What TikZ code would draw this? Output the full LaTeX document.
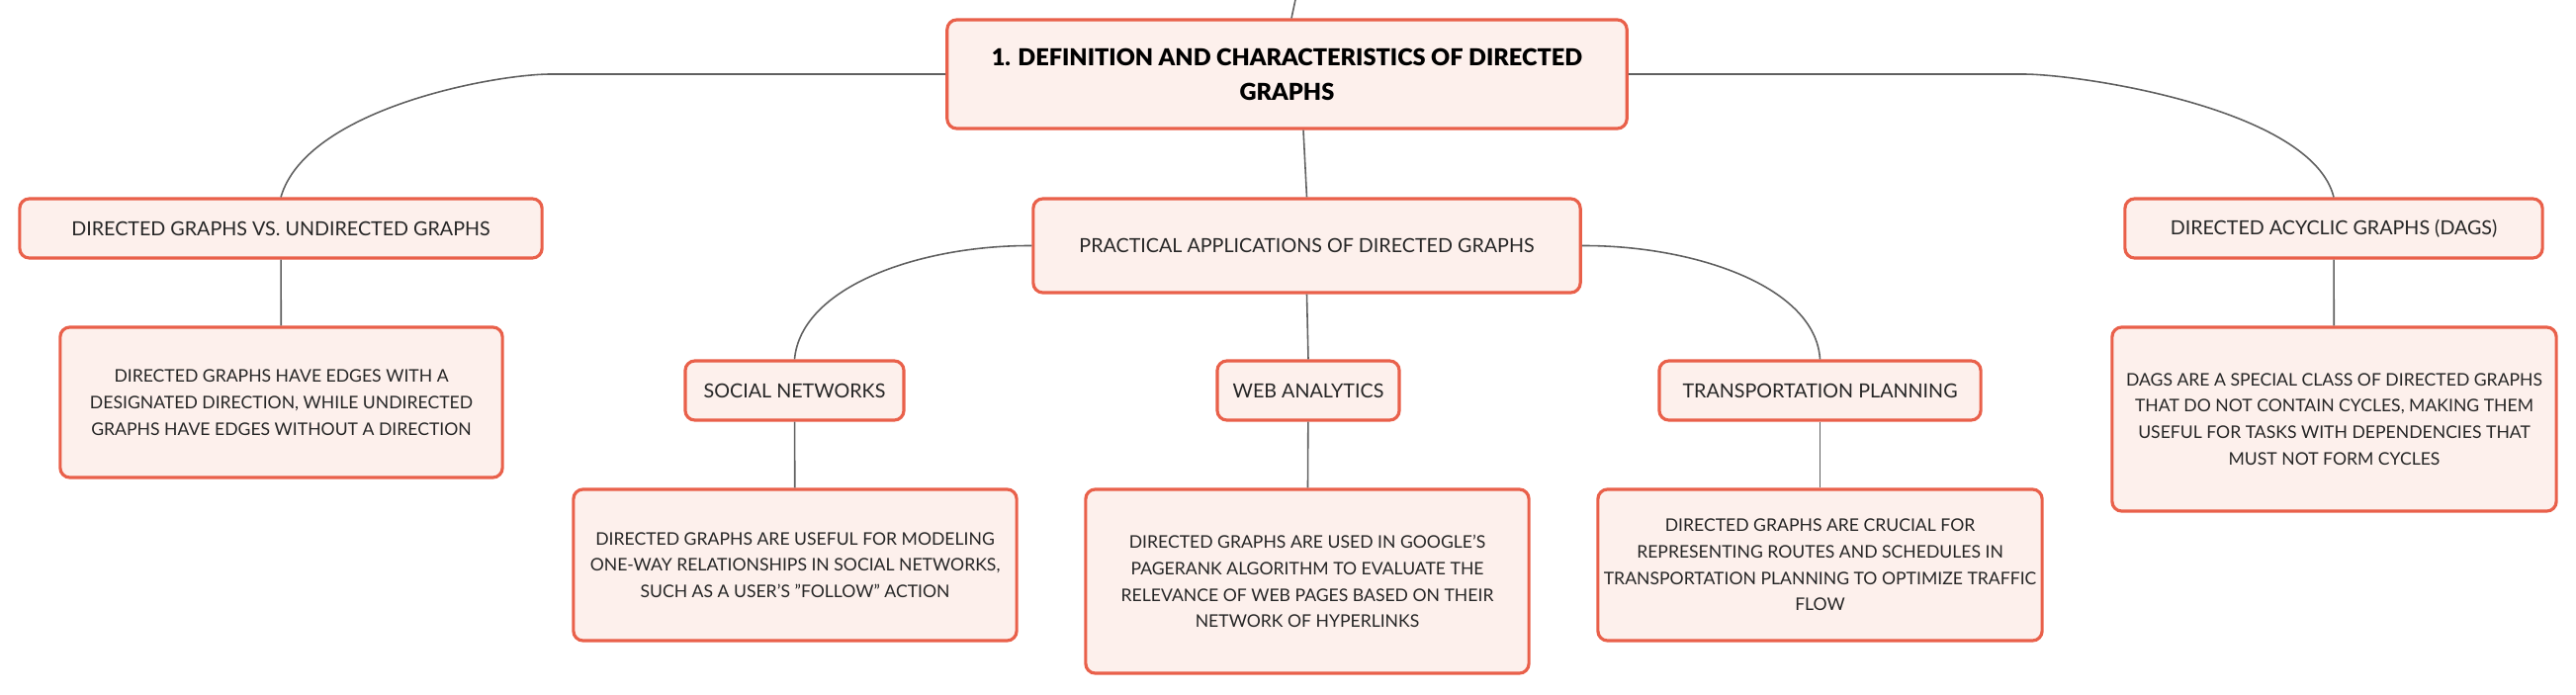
\documentclass[tikz,border=0pt]{standalone}
\usepackage{fontspec}
\setmainfont{Lato}
\newfontfamily\titlefont{Lato Black}
\definecolor{boxline}{HTML}{E9604A}
\definecolor{boxfill}{HTML}{FDF0EC}
\definecolor{wirecol}{HTML}{606060}
\begin{document}
\begin{tikzpicture}[x=0.01cm, y=-0.01cm,
    topic/.style={draw=boxline, fill=boxfill, line width=0.9pt, rounded corners=2.8pt,
        align=center, inner sep=0pt, text=black!85, font=\fontsize{5.6}{7.7}\selectfont},
    detail/.style={topic, minimum width=4.48cm, font=\fontsize{5.0}{7.6}\selectfont},
    wire/.style={draw=wirecol, line width=0.45pt}]
    \useasboundingbox (0,0) rectangle (2605,703);
    \node [topic, minimum width=6.87cm, minimum height=1.1cm, text=black, font=\fontsize{6.7}{10}\selectfont\titlefont] (root) at (1301.5,75) {1. DEFINITION AND CHARACTERISTICS OF DIRECTED\\GRAPHS};
    \node [topic, minimum width=5.28cm, minimum height=0.6cm] (vs) at (284,231) {DIRECTED GRAPHS VS. UNDIRECTED GRAPHS};
    \node [detail, minimum width=4.47cm, minimum height=1.52cm] (vsd) at (284.5,407) {DIRECTED GRAPHS HAVE EDGES WITH A\\DESIGNATED DIRECTION, WHILE UNDIRECTED\\GRAPHS HAVE EDGES WITHOUT A DIRECTION};
    \node [topic, minimum width=5.53cm, minimum height=0.95cm] (prac) at (1321.5,248.5) {PRACTICAL APPLICATIONS OF DIRECTED GRAPHS};
    \node [topic, minimum width=4.22cm, minimum height=0.6cm] (dag) at (2360,231) {DIRECTED ACYCLIC GRAPHS (DAGS)};
    \node [detail, minimum width=4.49cm, minimum height=1.86cm] (dagd) at (2360.5,424) {DAGS ARE A SPECIAL CLASS OF DIRECTED GRAPHS\\THAT DO NOT CONTAIN CYCLES, MAKING THEM\\USEFUL FOR TASKS WITH DEPENDENCIES THAT\\MUST NOT FORM CYCLES};
    \node [topic, minimum width=2.21cm, minimum height=0.6cm] (soc) at (803.5,395) {SOCIAL NETWORKS};
    \node [topic, minimum width=1.84cm, minimum height=0.6cm] (web) at (1323,395) {WEB ANALYTICS};
    \node [topic, minimum width=3.25cm, minimum height=0.6cm] (tra) at (1840.5,395) {TRANSPORTATION PLANNING};
    \node [detail, minimum height=1.53cm] (socd) at (804,571.5) {DIRECTED GRAPHS ARE USEFUL FOR MODELING\\ONE-WAY RELATIONSHIPS IN SOCIAL NETWORKS,\\SUCH AS A USER'S "FOLLOW" ACTION};
    \node [detail, minimum height=1.86cm] (webd) at (1322,588) {DIRECTED GRAPHS ARE USED IN GOOGLE'S\\PAGERANK ALGORITHM TO EVALUATE THE\\RELEVANCE OF WEB PAGES BASED ON THEIR\\NETWORK OF HYPERLINKS};
    \node [detail, minimum width=4.49cm, minimum height=1.53cm] (trad) at (1840.5,571.5) {DIRECTED GRAPHS ARE CRUCIAL FOR\\REPRESENTING ROUTES AND SCHEDULES IN\\TRANSPORTATION PLANNING TO OPTIMIZE TRAFFIC\\FLOW};
    \coordinate (up) at (1311,-5);
    \draw [wire] (up) -- ([xshift=0.045cm]root.north);
    \draw [wire] ([xshift=0.165cm]root.south) -- (prac.north);
    \draw [wire] (root.west) -- (557,75) .. controls (500,75) and (310,110) .. (vs.north);
    \draw [wire] (root.east) -- (2046,75) .. controls (2103,75) and (2338,110) .. (dag.north);
    \draw [wire] (prac.west) .. controls (930,248) and (810,290) .. (soc.north);
    \draw [wire] (prac.east) .. controls (1714,248) and (1836,290) .. (tra.north);
    \draw [wire] (prac.south) -- (web.north);
    \draw [wire] (vs) -- (vsd);
    \draw [wire] (dag) -- (dagd);
    \draw [wire] (soc) -- (socd);
    \draw [wire] (web) -- (webd);
    \draw [wire] (tra) -- (trad);
\end{tikzpicture}
\end{document}
